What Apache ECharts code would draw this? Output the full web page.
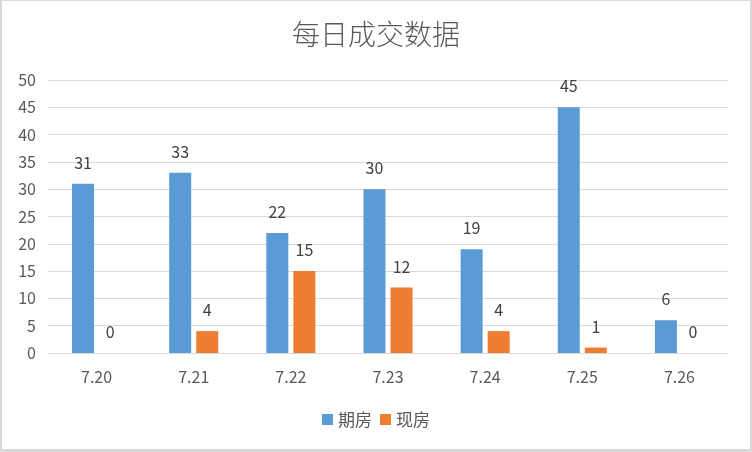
<!DOCTYPE html>
<html>
<head>
<meta charset="utf-8">
<script src="https://cdn.jsdelivr.net/npm/echarts@6/dist/echarts.min.js"></script>
<style>
html,body{margin:0;padding:0;background:#fff;}
#wrap{width:752px;height:452px;box-sizing:border-box;border:2px solid #d9d9d9;border-top-width:1px;border-bottom-width:3px;position:relative;}
#c{position:absolute;left:-2px;top:-1px;width:752px;height:452px;}
</style>
</head>
<body>
<div id="wrap"><div id="c"></div></div>
<script>
const categories = ['7.20','7.21','7.22','7.23','7.24','7.25','7.26'];
const futures = [31,33,22,30,19,45,6];
const spot = [0,4,15,12,4,1,0];
const seriesNames = ['期房','现房'];
const titleText = '每日成交数据';

const font = '"Noto Sans CJK SC","Noto Sans",sans-serif';
const chart = echarts.init(document.getElementById('c'));
const labelCfg = {show:true,position:'top',distance:13,color:'#404040',fontSize:16,fontFamily:font};
chart.setOption({
  animation:false,
  title:{text:titleText,left:'center',top:15,textStyle:{color:'#595959',fontSize:28,fontWeight:300,fontFamily:font}},
  legend:{data:seriesNames,bottom:19,left:'center',itemWidth:11,itemHeight:11,itemGap:8,icon:'rect',textStyle:{color:'#595959',fontSize:17,fontFamily:font}},
  grid:{left:48,right:24,top:80,bottom:99},
  xAxis:{type:'category',data:categories,axisLine:{lineStyle:{color:'#d9d9d9'}},axisTick:{show:false},axisLabel:{color:'#595959',fontSize:16,margin:16,fontFamily:font}},
  yAxis:{type:'value',min:0,max:50,interval:5,axisLine:{show:false},axisTick:{show:false},splitLine:{lineStyle:{color:'#d9d9d9'}},axisLabel:{color:'#595959',fontSize:16,margin:12,fontFamily:font}},
  series:[
    {name:seriesNames[0],type:'bar',data:futures,barWidth:22,barGap:'23%',itemStyle:{color:'#5B9BD5'},label:labelCfg},
    {name:seriesNames[1],type:'bar',data:spot,barWidth:22,itemStyle:{color:'#ED7D31'},label:labelCfg}
  ]
});
</script>
</body>
</html>
